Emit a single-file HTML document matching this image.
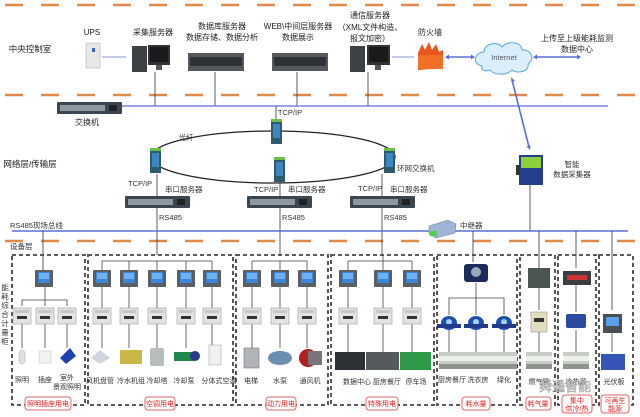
<!DOCTYPE html>
<html><head><meta charset="utf-8"><style>
html,body{margin:0;padding:0;background:#fff;}
svg{display:block;font-family:"Liberation Sans","Noto Sans CJK SC",sans-serif;}
</style></head><body>
<svg width="640" height="417" viewBox="0 0 640 417" xmlns="http://www.w3.org/2000/svg">
<defs>
<g id="meter"><rect x="-9" y="0" width="18" height="17" fill="#5a5f66" rx="1"/><rect x="-6" y="2" width="12" height="11" fill="#3b86d8"/><rect x="-5" y="3" width="10" height="6" fill="#6fb0ee"/></g>
<g id="brk"><rect x="-9" y="0" width="18" height="16" fill="#e2e4e4" stroke="#9a9e9e" stroke-width="0.6"/><rect x="-7" y="2" width="14" height="3" fill="#c4c7c7"/><rect x="-5" y="8" width="10" height="3" fill="#333"/></g>
<g id="pipe"><rect x="-13" y="0" width="26" height="17" fill="#c8ccc6"/><rect x="-13" y="4" width="26" height="5" fill="#eef0ec"/><rect x="-13" y="12" width="26" height="5" fill="#8e948c"/></g>
<g id="wm"><ellipse cx="0" cy="8" rx="8" ry="7" fill="#1e4db0"/><circle cx="0" cy="7" r="3" fill="#9fd0f5"/><rect x="-12" y="9" width="24" height="4" fill="#203a8c"/></g>
<g id="sw"><rect x="0" y="0" width="65" height="12" fill="#3c4650" rx="1"/><rect x="3" y="3" width="45" height="6" fill="#8e98a0"/><rect x="52" y="3" width="8" height="6" fill="#222"/></g>
<g id="rsw"><rect x="0" y="0" width="11" height="23" fill="#2e5a6e"/><rect x="2" y="3" width="7" height="14" fill="#3f86c0"/><rect x="0" y="-2" width="11" height="3" fill="#6ac04a"/></g>
</defs>

<g stroke="#e0894a" stroke-width="2.5" stroke-dasharray="18 18">
<line x1="5" y1="5" x2="640" y2="5"/>
<line x1="5" y1="95" x2="640" y2="95"/>
<line x1="5" y1="241" x2="640" y2="241"/>
</g>

<g font-size="8" fill="#222" text-anchor="middle">
<text x="30" y="52" font-size="8.5">中央控制室</text>
<text x="92" y="35">UPS</text>
<text x="153" y="35">采集服务器</text>
<text x="222" y="29">数据库服务器</text>
<text x="222" y="40">数据存储、数据分析</text>
<text x="298" y="29">WEB\中间层服务器</text>
<text x="298" y="40">数据展示</text>
<text x="370" y="18">通信服务器</text>
<text x="370" y="30">（XML文件构造、</text>
<text x="370" y="41">报文加密）</text>
<text x="430" y="35">防火墙</text>
<text x="577" y="41">上传至上级能耗监测</text>
<text x="577" y="52">数据中心</text>
</g>
<rect x="86" y="43" width="14" height="25" fill="#e6e8e4" stroke="#aaa" stroke-width="0.5"/>
<rect x="92" y="48" width="3" height="4" fill="#36c"/>
<line x1="102" y1="57" x2="126" y2="57" stroke="#8a96d6" stroke-width="1"/>
<rect x="132" y="46" width="15" height="26" fill="#3d4044"/>
<rect x="148" y="45" width="22" height="20" fill="#333"/><rect x="150" y="47" width="18" height="15" fill="#1a1a1a"/>
<rect x="156" y="65" width="6" height="5" fill="#555"/>
<rect x="188" y="53" width="56" height="18" fill="#55595e"/><rect x="190" y="57" width="52" height="9" fill="#2e3136"/>
<rect x="272" y="53" width="56" height="18" fill="#55595e"/><rect x="274" y="57" width="52" height="9" fill="#2e3136"/>
<rect x="350" y="46" width="15" height="26" fill="#3d4044"/>
<rect x="367" y="45" width="23" height="20" fill="#333"/><rect x="369" y="47" width="19" height="15" fill="#1a1a1a"/>
<rect x="375" y="65" width="6" height="5" fill="#555"/>
<line x1="392" y1="57" x2="414" y2="57" stroke="#8a96d6" stroke-width="1"/>
<path d="M418 53 L422 44 L425 50 L429 42 L432 50 L436 44 L439 52 L443 50 L443 68 L418 70 Z" fill="#e8561e"/>
<rect x="418" y="55" width="25" height="14" fill="#f07028"/>
<g stroke="#5b6fd6" stroke-width="1.6" fill="#5b6fd6">
<line x1="447" y1="57" x2="473" y2="57"/>
<line x1="535" y1="57" x2="578" y2="57"/>
<line x1="512" y1="80" x2="529" y2="147"/>
</g>
<path d="M445 57 l4 -2.5 v5z M475 57 l-4 -2.5 v5z M533 57 l4 -2.5 v5z M581 57 l-4 -2.5 v5z M511 77 l0.5 5 l3.5 -1z M530 150 l-3.5 -3.5 l4 -1z" fill="#5b6fd6"/>
<path d="M482 66 C472 64 474 52 484 52 C484 43 498 41 502 47 C508 40 522 42 522 50 C532 49 535 60 528 64 C530 72 516 74 512 70 C506 76 494 75 490 70 C486 72 480 70 482 66 Z" fill="#dbeefb" stroke="#5aa7e0" stroke-width="1"/>
<text x="504" y="60" font-size="7.5" fill="#556" text-anchor="middle">Internet</text>

<g stroke="#333" stroke-width="0.8">
<line x1="155" y1="72" x2="155" y2="106"/>
<line x1="215" y1="72" x2="215" y2="106"/>
<line x1="297" y1="72" x2="297" y2="106"/>
<line x1="368" y1="72" x2="368" y2="106"/>
</g>
<line x1="120" y1="106" x2="608" y2="106" stroke="#5b6fd6" stroke-width="1.2"/>
<use href="#sw" x="57" y="102"/>
<text x="87" y="125" font-size="8" text-anchor="middle" fill="#222">交换机</text>

<text x="30" y="167" font-size="8.5" text-anchor="middle" fill="#222">网络层/传输层</text>
<text x="290" y="115" font-size="7.5" text-anchor="middle" fill="#333">TCP/IP</text>
<line x1="276" y1="106" x2="276" y2="120" stroke="#333" stroke-width="0.8"/>
<ellipse cx="273" cy="157" rx="122" ry="26" fill="none" stroke="#222" stroke-width="1.3"/>
<text x="186" y="140" font-size="7.5" fill="#333" text-anchor="middle">光纤</text>
<use href="#rsw" x="271" y="121"/>
<use href="#rsw" x="150" y="150"/>
<use href="#rsw" x="274" y="159"/>
<use href="#rsw" x="384" y="150"/>
<text x="397" y="171" font-size="7.5" fill="#333">环网交换机</text>
<g stroke="#333" stroke-width="0.8">
<line x1="157" y1="174" x2="157" y2="196"/>
<line x1="280" y1="182" x2="280" y2="196"/>
<line x1="382" y1="174" x2="382" y2="196"/>
</g>
<g font-size="7.5" fill="#333">
<text x="128" y="186">TCP/IP</text><text x="165" y="192">串口服务器</text>
<text x="254" y="192">TCP/IP</text><text x="288" y="192">串口服务器</text>
<text x="358" y="191">TCP/IP</text><text x="390" y="192">串口服务器</text>
</g>
<use href="#sw" x="125" y="196"/>
<use href="#sw" x="247" y="196"/>
<use href="#sw" x="350" y="196"/>
<g stroke="#333" stroke-width="0.8">
<line x1="157" y1="208" x2="157" y2="255"/>
<line x1="280" y1="208" x2="280" y2="255"/>
<line x1="382" y1="208" x2="382" y2="255"/>
</g>
<g font-size="7.5" fill="#333">
<text x="159" y="220">RS485</text><text x="282" y="220">RS485</text><text x="384" y="220">RS485</text>
</g>

<rect x="519" y="155" width="24" height="30" fill="#24408a"/>
<rect x="521" y="157" width="20" height="11" fill="#8ccf3c"/>
<rect x="516" y="165" width="4" height="10" fill="#333"/>
<text x="572" y="167" font-size="7.5" fill="#333" text-anchor="middle">智能</text>
<text x="572" y="177" font-size="7.5" fill="#333" text-anchor="middle">数据采集器</text>
<line x1="530" y1="185" x2="530" y2="231" stroke="#333" stroke-width="0.8"/>

<text x="10" y="228" font-size="7.5" fill="#333">RS485现场总线</text>
<line x1="12" y1="231" x2="628" y2="231" stroke="#5b6fd6" stroke-width="1.5"/>
<path d="M429 226 L448 220 L456 224 L455 233 L436 238 L429 234 Z" fill="#9fb4d6" stroke="#778" stroke-width="0.5"/>
<rect x="430" y="231" width="7" height="5" fill="#5c5"/>
<text x="460" y="228" font-size="7.5" fill="#333">中继器</text>
<text x="10" y="249" font-size="7.5" fill="#333">设备层</text>

<g stroke="#333" stroke-width="0.8">
<line x1="43" y1="231" x2="43" y2="270"/>
<line x1="473" y1="231" x2="473" y2="262"/>
<line x1="539" y1="231" x2="539" y2="270"/>
<line x1="576" y1="231" x2="576" y2="268"/>
<line x1="612" y1="231" x2="612" y2="310"/>
</g>

<g fill="none" stroke="#444" stroke-width="1.8" stroke-dasharray="4 3">
<rect x="12" y="255" width="73" height="150"/>
<rect x="88" y="255" width="145" height="150"/>
<rect x="236" y="255" width="92" height="150"/>
<rect x="331" y="255" width="103" height="150"/>
<rect x="437" y="255" width="80" height="150"/>
<rect x="520" y="255" width="35" height="150"/>
<rect x="558" y="255" width="38" height="150"/>
<rect x="599" y="255" width="34" height="150"/>
</g>
<g font-size="7.5" fill="#333" text-anchor="middle">
<text x="5" y="290">能</text><text x="5" y="299">耗</text><text x="5" y="308">综</text><text x="5" y="317">合</text><text x="5" y="326">计</text><text x="5" y="335">量</text><text x="5" y="344">柜</text>
</g>

<g stroke="#444" stroke-width="0.8" fill="none">
<path d="M22 306 V300 H67 V306 M45 287 V306"/>
<path d="M102 270 V261 H212 V270 M129 261 V270 M157 261 V270 M186 261 V270"/>
<path d="M252 270 V261 H307 V270 M280 261 V270"/>
<path d="M348 270 V261 H412 V270 M383 255 V270"/>
<path d="M449 315 V298 H504 V315 M476 283 V315"/>
<path d="M102 287V308 M129 287V308 M157 287V308 M186 287V308 M212 287V308 M252 287V308 M280 287V308 M307 287V308 M348 287V308 M383 287V308 M412 287V308 M539 288V310 M576 285V312"/>
<path d="M22 324V348 M45 324V348 M67 324V348 M102 324V348 M129 324V348 M157 324V348 M186 324V348 M212 324V348 M252 324V348 M280 324V348 M307 324V348 M348 324V352 M383 324V352 M412 324V352 M449 330V352 M476 330V352 M504 330V352 M539 330V352 M576 330V352 M612 330V352"/>
</g>
<g>
<use href="#meter" x="44" y="270"/>
<use href="#meter" x="102" y="270"/><use href="#meter" x="129" y="270"/><use href="#meter" x="157" y="270"/><use href="#meter" x="186" y="270"/><use href="#meter" x="212" y="270"/>
<use href="#meter" x="252" y="270"/><use href="#meter" x="280" y="270"/><use href="#meter" x="307" y="270"/>
<use href="#meter" x="348" y="270"/><use href="#meter" x="383" y="270"/><use href="#meter" x="412" y="270"/>
<use href="#brk" x="22" y="308"/><use href="#brk" x="45" y="308"/><use href="#brk" x="67" y="308"/>
<use href="#brk" x="102" y="308"/><use href="#brk" x="129" y="308"/><use href="#brk" x="157" y="308"/><use href="#brk" x="186" y="308"/><use href="#brk" x="212" y="308"/>
<use href="#brk" x="252" y="308"/><use href="#brk" x="280" y="308"/><use href="#brk" x="307" y="308"/>
<use href="#brk" x="348" y="308"/><use href="#brk" x="383" y="308"/><use href="#brk" x="412" y="308"/>
<rect x="464" y="264" width="24" height="18" fill="#1d2a5a" rx="3"/><circle cx="476" cy="272" r="5" fill="#9ab"/>
<use href="#wm" x="449" y="315"/><use href="#wm" x="476" y="315"/><use href="#wm" x="504" y="315"/>
<use href="#pipe" x="452" y="352"/><use href="#pipe" x="478" y="352"/><use href="#pipe" x="504" y="352"/>
<use href="#pipe" x="539" y="352"/><use href="#pipe" x="576" y="352"/>
<rect x="528" y="268" width="22" height="20" fill="#4d5550"/>
<rect x="531" y="312" width="16" height="20" fill="#e4dcc0" stroke="#888" stroke-width="0.5"/><rect x="534" y="318" width="10" height="4" fill="#333"/>
<rect x="563" y="271" width="28" height="14" fill="#3a3d42"/><rect x="567" y="275" width="20" height="5" fill="#c33"/>
<rect x="566" y="314" width="20" height="14" fill="#2c4aa0" rx="2"/>
<rect x="603" y="314" width="19" height="19" fill="#4a4f55"/><rect x="606" y="317" width="13" height="9" fill="#5aa0e8"/>
<rect x="601" y="354" width="24" height="16" fill="#3556b8"/>
<rect x="19" y="350" width="6" height="14" fill="#e0e0e0" stroke="#aaa" stroke-width="0.5" rx="3"/>
<rect x="39" y="351" width="12" height="12" fill="#f2f2ee" stroke="#bbb" stroke-width="0.5"/>
<path d="M60 358 L70 348 L76 356 L66 364 Z" fill="#2040b0"/>
<path d="M91 358 L100 350 L110 358 L100 364 Z" fill="#cfd6de"/>
<rect x="120" y="350" width="22" height="14" fill="#c9b845"/>
<rect x="150" y="348" width="14" height="18" fill="#b8bebe" rx="2"/>
<rect x="174" y="352" width="20" height="9" fill="#1e8a4a"/><circle cx="195" cy="356" r="5" fill="#2a3a8a"/>
<rect x="209" y="345" width="12" height="20" fill="#eef0f2" stroke="#999" stroke-width="0.5"/>
<rect x="244" y="348" width="15" height="20" fill="#b0b4b8" stroke="#666" stroke-width="0.5"/>
<ellipse cx="280" cy="358" rx="12" ry="7" fill="#6a8eb0"/>
<circle cx="308" cy="358" r="9" fill="#b02020"/><rect x="308" y="351" width="14" height="14" fill="#777"/>
<rect x="335" y="352" width="30" height="18" fill="#2d3135"/>
<rect x="366" y="352" width="33" height="18" fill="#555a5c"/>
<rect x="400" y="352" width="31" height="18" fill="#2e9a48"/>
</g>
<g font-size="7" fill="#333" text-anchor="middle">
<text x="22" y="382">照明</text><text x="45" y="382">插座</text><text x="67" y="380">室外</text><text x="67" y="389">景观照明</text>
<text x="100" y="383">风机盘管</text><text x="131" y="383">冷水机组</text><text x="157" y="383">冷却塔</text><text x="184" y="383">冷却泵</text><text x="219" y="383">分体式空调</text>
<text x="251" y="383">电梯</text><text x="280" y="383">水泵</text><text x="310" y="383">通风机</text>
<text x="357" y="384">数据中心</text><text x="387" y="384">厨房餐厅</text><text x="416" y="384">停车场</text>
<text x="452" y="382">厨房餐厅</text><text x="478" y="382">洗衣房</text><text x="504" y="382">绿化</text>
<text x="539" y="384">燃气管</text><text x="576" y="384">冷热源</text><text x="614" y="384">光伏板</text>
</g>
<g font-size="7" fill="#e02020" text-anchor="middle">
<rect x="25" y="397" width="46" height="13" fill="#fff" stroke="#d66" rx="3"/><text x="48" y="406">照明插座用电</text>
<rect x="145" y="397" width="30" height="13" fill="#fff" stroke="#d66" rx="3"/><text x="160" y="406">空调用电</text>
<rect x="266" y="397" width="30" height="13" fill="#fff" stroke="#d66" rx="3"/><text x="281" y="406">动力用电</text>
<rect x="366" y="397" width="32" height="13" fill="#fff" stroke="#d66" rx="3"/><text x="382" y="406">特殊用电</text>
<rect x="462" y="397" width="28" height="13" fill="#fff" stroke="#d66" rx="3"/><text x="476" y="406">耗水量</text>
<rect x="526" y="397" width="25" height="13" fill="#fff" stroke="#d66" rx="3"/><text x="538" y="406">耗气量</text>
<rect x="562" y="395" width="30" height="18" fill="#fff" stroke="#d66" rx="3"/><text x="577" y="403">集中</text><text x="577" y="411">供冷/热</text>
<rect x="601" y="395" width="28" height="18" fill="#fff" stroke="#d66" rx="3"/><text x="615" y="403">可再生</text><text x="615" y="411">能源</text>
</g>
<text x="565" y="391" font-size="13" fill="#fff" stroke="#999" stroke-width="0.6" text-anchor="middle">舜通智能</text>
</svg>
</body></html>
